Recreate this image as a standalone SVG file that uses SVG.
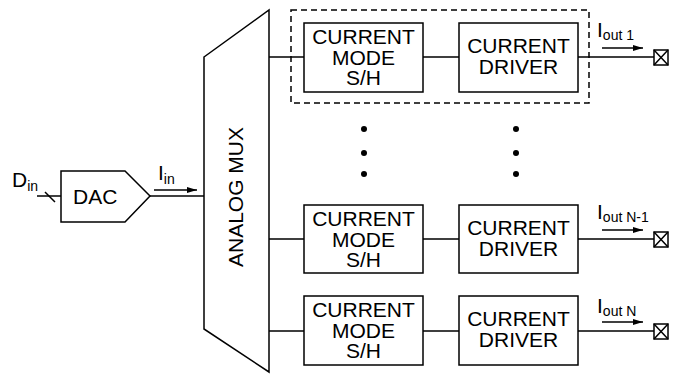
<svg xmlns="http://www.w3.org/2000/svg" width="682" height="374" viewBox="0 0 682 374">
<defs>
<style>
.s{fill:none;stroke:#000;stroke-width:1.5}
.b{fill:#fff;stroke:#000;stroke-width:1.5}
.t{font-family:"Liberation Sans",Arial,sans-serif;font-size:21px;fill:#000}
.c{text-anchor:middle}
.sub{font-size:14px}
.d{fill:#000}
</style>
<marker id="ah" viewBox="0 0 10 6" refX="10" refY="3" markerWidth="10" markerHeight="6" markerUnits="userSpaceOnUse" orient="auto">
<path d="M0,0 L10,3 L0,6 Z" fill="#000"/>
</marker>
<g id="term">
<rect x="-7" y="-7.5" width="14" height="15" class="b"/>
<path d="M-7,-7.5 L7,7.5 M-7,7.5 L7,-7.5" class="s" stroke-width="1.2"/>
</g>
</defs>
<rect width="682" height="374" fill="#fff"/>

<g id="connectors">
<path class="s" d="M37,196 H61"/>
<path class="s" d="M45,192 L55,202"/>
<path class="s" d="M150,196 H204"/>
<path class="s" d="M154,190 H197" marker-end="url(#ah)"/>
<path class="s" d="M269,57 H304 M423,57 H459 M578,57 H654"/>
<path class="s" d="M269,239 H304 M423,239 H459 M578,239 H654"/>
<path class="s" d="M269,331 H304 M423,331 H459 M578,331 H654"/>
<path class="s" d="M602,48 H643" marker-end="url(#ah)"/>
<path class="s" d="M602,230 H643" marker-end="url(#ah)"/>
<path class="s" d="M602,322 H643" marker-end="url(#ah)"/>
</g>

<g id="din"><text class="t" x="12" y="187">D<tspan class="sub" dy="4">in</tspan></text></g>

<g id="dac">
<polygon class="b" points="61,171 125,171 150,196 125,222 61,222"/>
<text class="t" x="73" y="204">DAC</text>
</g>
<g id="iin"><text class="t" x="158" y="180">I<tspan class="sub" dy="4">in</tspan></text></g>

<g id="mux">
<polygon class="b" points="204,57 269,10 269,372 204,329"/>
<text class="t c" transform="translate(243,197) rotate(-90)" font-size="22">ANALOG MUX</text>
</g>

<g id="group1"><rect x="291" y="10" width="298" height="93" fill="none" stroke="#000" stroke-width="1.5" stroke-dasharray="6,4"/></g>

<g id="sh1">
<rect class="b" x="304" y="23" width="119" height="69"/>
<text class="t c" x="363.5" y="44">CURRENT</text>
<text class="t c" x="363.5" y="65">MODE</text>
<text class="t c" x="363.5" y="85">S/H</text>
</g>
<g id="drv1">
<rect class="b" x="459" y="23" width="119" height="69"/>
<text class="t c" x="518.5" y="53">CURRENT</text>
<text class="t c" x="518.5" y="74">DRIVER</text>
</g>

<g id="sh2">
<rect class="b" x="304" y="205" width="119" height="68"/>
<text class="t c" x="363.5" y="226">CURRENT</text>
<text class="t c" x="363.5" y="247">MODE</text>
<text class="t c" x="363.5" y="267">S/H</text>
</g>
<g id="drv2">
<rect class="b" x="459" y="205" width="119" height="68"/>
<text class="t c" x="518.5" y="235">CURRENT</text>
<text class="t c" x="518.5" y="256">DRIVER</text>
</g>

<g id="sh3">
<rect class="b" x="304" y="296" width="119" height="69"/>
<text class="t c" x="363.5" y="317">CURRENT</text>
<text class="t c" x="363.5" y="338">MODE</text>
<text class="t c" x="363.5" y="358">S/H</text>
</g>
<g id="drv3">
<rect class="b" x="459" y="296" width="119" height="69"/>
<text class="t c" x="518.5" y="326">CURRENT</text>
<text class="t c" x="518.5" y="347">DRIVER</text>
</g>

<g id="dots">
<circle class="d" cx="364" cy="129" r="3"/>
<circle class="d" cx="364" cy="153" r="3"/>
<circle class="d" cx="364" cy="174" r="3"/>
<circle class="d" cx="516" cy="129" r="3"/>
<circle class="d" cx="516" cy="153" r="3"/>
<circle class="d" cx="516" cy="174" r="3"/>
</g>

<g id="out1">
<use href="#term" x="661" y="57.5"/>
<text class="t" x="597" y="37">I<tspan class="sub" dy="3">out 1</tspan></text>
</g>
<g id="outN1">
<use href="#term" x="661" y="239.5"/>
<text class="t" x="597" y="219">I<tspan class="sub" dy="3">out N-1</tspan></text>
</g>
<g id="outN">
<use href="#term" x="661" y="331.5"/>
<text class="t" x="597" y="313">I<tspan class="sub" dy="3">out N</tspan></text>
</g>
</svg>
